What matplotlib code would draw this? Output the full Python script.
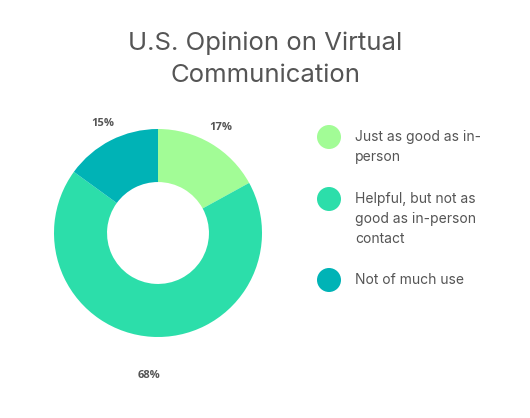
import numpy as np
import matplotlib
matplotlib.use("Agg")
import matplotlib.pyplot as plt
from matplotlib.patches import Circle

title = "U.S. Opinion on Virtual\nCommunication"
categories = ["Just as good as in-\nperson",
              "Helpful, but not as\ngood as in-person\ncontact",
              "Not of much use"]
values = [17, 68, 15]
colors = ["#A2FC96", "#2CDEAA", "#00B3B6"]
label_dist = [1.18, 1.37, 1.18]

W, H = 530, 418
fig = plt.figure(figsize=(W / 100, H / 100), dpi=100)

# pie axes: centre at (158, 233) px, radius ~104 px
cx, cy, r = 158, 233, 104
half = 1.4 * r
ax = fig.add_axes([(cx - half) / W, (H - cy - half) / H, 2 * half / W, 2 * half / H])
wedges, _ = ax.pie(values, colors=colors, startangle=90, counterclock=False,
                   radius=1, wedgeprops=dict(width=0.51, linewidth=0))
ax.set_xlim(-1.4, 1.4)
ax.set_ylim(-1.4, 1.4)
ax.set_aspect("equal")
ax.axis("off")

total = sum(values)
start = 90
for v, d in zip(values, label_dist):
    ang = np.deg2rad(start - v / total * 360 / 2)
    start -= v / total * 360
    ax.text(d * np.cos(ang), d * np.sin(ang), f"{v}%", ha="center", va="center",
            fontsize=8, fontweight="bold", color="#555555", family="Open Sans")

# title
fig.text(0.5, 1 - 59 / H, title, ha="center", va="center", fontsize=18.5,
         color="#555555", family="Inter", linespacing=1.5)

# legend in pixel space
lax = fig.add_axes([0, 0, 1, 1])
lax.set_xlim(0, W)
lax.set_ylim(H, 0)
lax.axis("off")
leg_y = [137, 199, 280]
for lab, col, y in zip(categories, colors, leg_y):
    lax.add_patch(Circle((329, y), 12, color=col, linewidth=0))
    lax.text(355, y - 7, lab, ha="left", va="top", fontsize=10, color="#555555",
             family="Inter", linespacing=1.55)

fig.savefig("out.png", dpi=100)
